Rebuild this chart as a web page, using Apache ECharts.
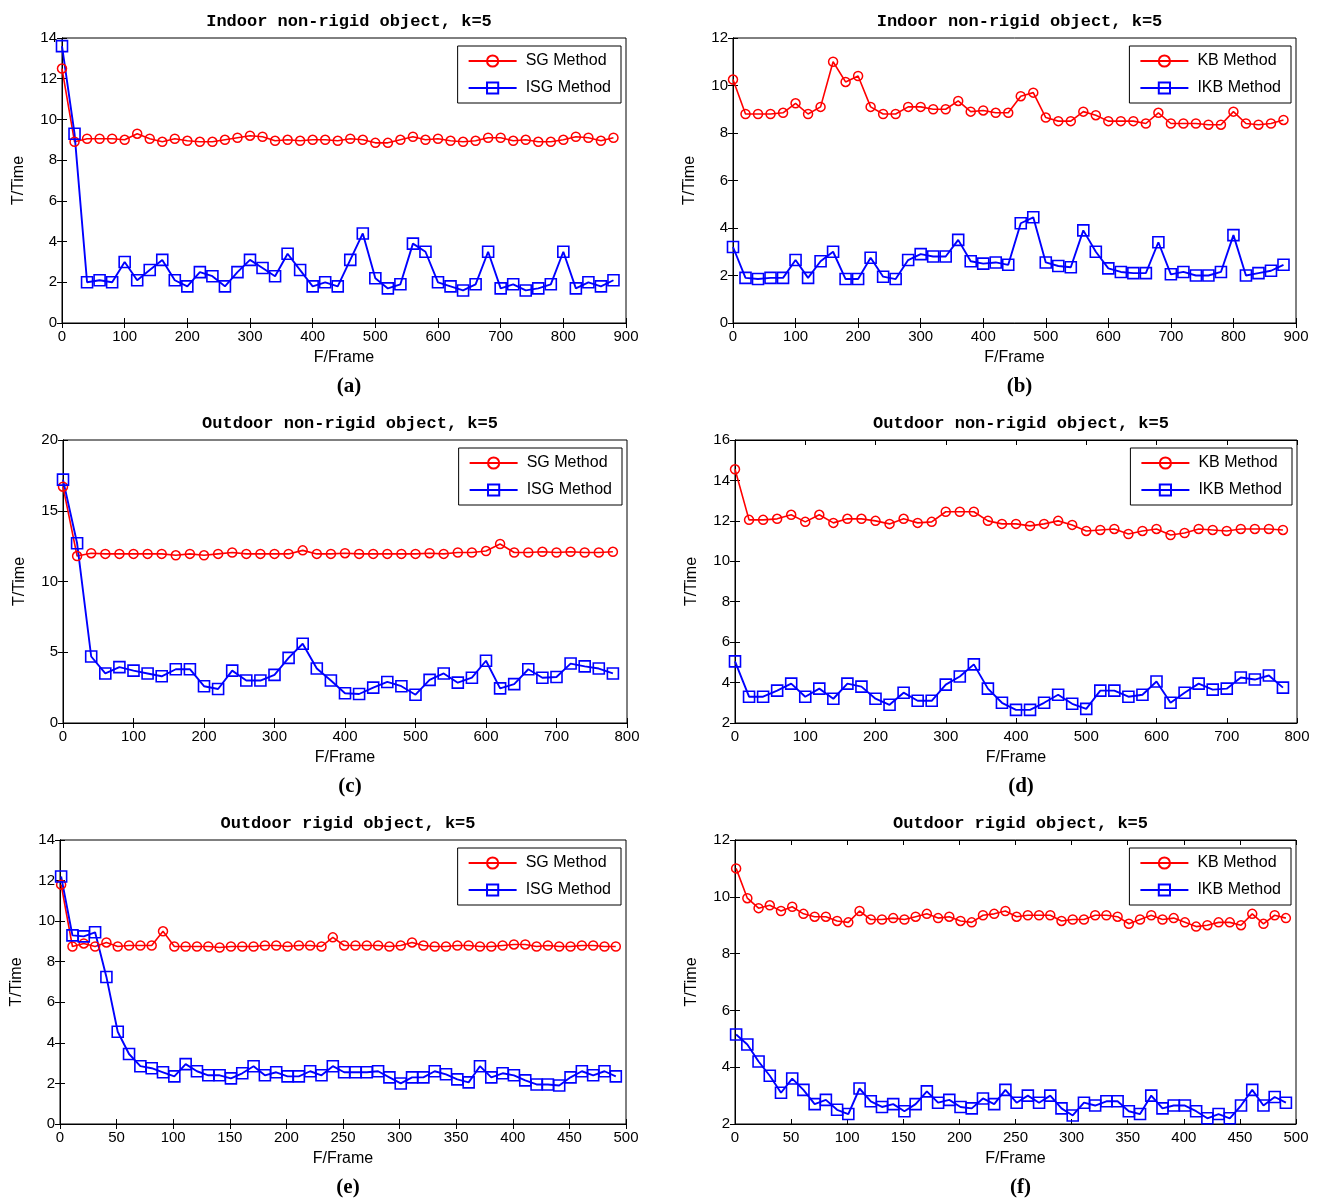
<!DOCTYPE html>
<html>
<head>
<meta charset="utf-8">
<title>T/Time vs F/Frame, k=5</title>
<script src="https://cdn.jsdelivr.net/npm/echarts@6/dist/echarts.min.js"></script>
<style>
  html, body { margin: 0; padding: 0; background: #fff; }
  #chart { width: 1321px; height: 1201px; }
</style>
</head>
<body>
<div id="chart"></div>
<script>
// frames (x values)
const framesAB = [0,20,40,60,80,100,120,140,160,180,200,220,240,260,280,300,320,340,360,380,400,420,440,460,480,500,520,540,560,580,600,620,640,660,680,700,720,740,760,780,800,820,840,860,880];
const framesCD = [0,20,40,60,80,100,120,140,160,180,200,220,240,260,280,300,320,340,360,380,400,420,440,460,480,500,520,540,560,580,600,620,640,660,680,700,720,740,760,780];
const framesEF = [1,11,21,31,41,51,61,71,81,91,101,111,121,131,141,151,161,171,181,191,201,211,221,231,241,251,261,271,281,291,301,311,321,331,341,351,361,371,381,391,401,411,421,431,441,451,461,471,481,491];

// (a) indoor non-rigid, SG / ISG
const sgA  = [12.5,8.9,9.05,9.05,9.05,9.0,9.3,9.05,8.9,9.05,8.95,8.9,8.9,9.0,9.1,9.2,9.15,8.95,9.0,8.95,9.0,9.0,8.95,9.05,9.0,8.85,8.85,9.0,9.15,9.0,9.05,8.95,8.9,8.95,9.1,9.1,8.95,9.0,8.9,8.9,9.0,9.15,9.1,8.95,9.1];
const isgA = [13.6,9.3,2.0,2.1,2.0,3.0,2.1,2.6,3.1,2.1,1.8,2.5,2.3,1.8,2.5,3.1,2.7,2.3,3.4,2.6,1.8,2.0,1.8,3.1,4.4,2.2,1.7,1.9,3.9,3.5,2.0,1.8,1.6,1.9,3.5,1.7,1.9,1.6,1.7,1.9,3.5,1.7,2.0,1.8,2.1];

// (b) indoor non-rigid, KB / IKB
const kbB  = [10.25,8.8,8.8,8.8,8.85,9.25,8.8,9.1,11.0,10.15,10.4,9.1,8.8,8.8,9.1,9.1,9.0,9.0,9.35,8.9,8.95,8.85,8.85,9.55,9.7,8.65,8.5,8.5,8.9,8.75,8.5,8.5,8.5,8.4,8.85,8.4,8.4,8.4,8.35,8.35,8.9,8.4,8.35,8.4,8.55];
const ikbB = [3.2,1.9,1.85,1.9,1.9,2.65,1.9,2.6,3.0,1.85,1.85,2.75,1.95,1.85,2.65,2.9,2.8,2.8,3.5,2.6,2.5,2.55,2.45,4.2,4.45,2.55,2.4,2.35,3.9,3.0,2.3,2.15,2.1,2.1,3.4,2.05,2.15,2.0,2.0,2.15,3.7,2.0,2.1,2.2,2.45];

// (c) outdoor non-rigid, SG / ISG
const sgC  = [16.7,11.8,12.0,11.95,11.95,11.95,11.95,11.95,11.85,11.95,11.85,11.95,12.05,11.95,11.95,11.95,11.95,12.2,11.95,11.95,12.0,11.95,11.95,11.95,11.95,11.95,12.0,11.95,12.05,12.05,12.15,12.65,12.05,12.05,12.1,12.05,12.1,12.05,12.05,12.1];
const isgC = [17.2,12.7,4.7,3.5,3.95,3.7,3.5,3.3,3.8,3.8,2.6,2.4,3.7,3.0,3.0,3.4,4.6,5.6,3.85,3.0,2.1,2.05,2.5,2.9,2.6,2.0,3.05,3.5,2.85,3.2,4.4,2.45,2.75,3.8,3.2,3.25,4.2,4.0,3.85,3.5];

// (d) outdoor non-rigid, KB / IKB
const kbD  = [14.55,12.05,12.05,12.1,12.3,11.95,12.3,11.9,12.1,12.1,12.0,11.85,12.1,11.9,11.95,12.45,12.45,12.45,12.0,11.85,11.85,11.75,11.85,12.0,11.8,11.5,11.55,11.6,11.35,11.5,11.6,11.3,11.4,11.6,11.55,11.5,11.6,11.6,11.6,11.55];
const ikbD = [5.05,3.3,3.3,3.6,3.95,3.3,3.7,3.2,3.95,3.8,3.2,2.9,3.5,3.1,3.1,3.9,4.3,4.9,3.7,3.0,2.65,2.65,3.0,3.4,2.95,2.7,3.6,3.6,3.3,3.4,4.05,3.0,3.5,3.95,3.65,3.7,4.25,4.15,4.35,3.75];

// (e) outdoor rigid, SG / ISG
const sgE  = [11.8,8.75,8.9,8.75,8.95,8.75,8.8,8.8,8.8,9.5,8.75,8.75,8.75,8.75,8.7,8.75,8.75,8.75,8.8,8.8,8.75,8.8,8.8,8.75,9.2,8.8,8.8,8.8,8.8,8.75,8.8,8.95,8.8,8.75,8.75,8.8,8.8,8.75,8.75,8.8,8.85,8.85,8.75,8.8,8.75,8.75,8.8,8.8,8.75,8.75];
const isgE = [12.2,9.3,9.25,9.45,7.25,4.55,3.45,2.85,2.75,2.55,2.35,2.95,2.6,2.4,2.4,2.25,2.5,2.85,2.4,2.55,2.35,2.35,2.6,2.4,2.85,2.55,2.55,2.55,2.6,2.3,2.0,2.3,2.3,2.6,2.45,2.2,2.05,2.85,2.3,2.5,2.4,2.15,1.95,1.95,1.9,2.3,2.6,2.4,2.6,2.35];

// (f) outdoor rigid, KB / IKB
const kbF  = [11.0,9.95,9.6,9.7,9.5,9.65,9.4,9.3,9.3,9.15,9.1,9.5,9.2,9.2,9.25,9.2,9.3,9.4,9.25,9.3,9.15,9.1,9.35,9.4,9.5,9.3,9.35,9.35,9.35,9.15,9.2,9.2,9.35,9.35,9.3,9.05,9.2,9.35,9.2,9.25,9.1,8.95,9.0,9.1,9.1,9.0,9.4,9.05,9.35,9.25];
const ikbF = [5.15,4.8,4.2,3.7,3.1,3.6,3.2,2.7,2.85,2.5,2.35,3.25,2.8,2.6,2.7,2.45,2.7,3.15,2.75,2.85,2.6,2.55,2.9,2.7,3.2,2.75,3.0,2.75,3.0,2.55,2.3,2.75,2.65,2.8,2.8,2.45,2.35,3.0,2.55,2.65,2.65,2.45,2.2,2.35,2.2,2.65,3.2,2.65,2.95,2.75];

const panels = [
  {title:'Indoor non-rigid object, k=5', tag:'(a)', left:62, top:38, width:564, height:285,
   xMax:900, xStep:100, yMin:0, yMax:14, yStep:2, frames:framesAB, red:sgA, blue:isgA, names:['SG Method','ISG Method']},
  {title:'Indoor non-rigid object, k=5', tag:'(b)', left:733, top:38, width:563, height:285,
   xMax:900, xStep:100, yMin:0, yMax:12, yStep:2, frames:framesAB, red:kbB, blue:ikbB, names:['KB Method','IKB Method']},
  {title:'Outdoor non-rigid object, k=5', tag:'(c)', left:63, top:440, width:564, height:283,
   xMax:800, xStep:100, yMin:0, yMax:20, yStep:5, frames:framesCD, red:sgC, blue:isgC, names:['SG Method','ISG Method']},
  {title:'Outdoor non-rigid object, k=5', tag:'(d)', left:735, top:440, width:562, height:283,
   xMax:800, xStep:100, yMin:2, yMax:16, yStep:2, frames:framesCD, red:kbD, blue:ikbD, names:['KB Method','IKB Method']},
  {title:'Outdoor rigid object, k=5', tag:'(e)', left:60, top:840, width:566, height:284,
   xMax:500, xStep:50, yMin:0, yMax:14, yStep:2, frames:framesEF, red:sgE, blue:isgE, names:['SG Method','ISG Method']},
  {title:'Outdoor rigid object, k=5', tag:'(f)', left:735, top:840, width:561, height:284,
   xMax:500, xStep:50, yMin:2, yMax:12, yStep:2, frames:framesEF, red:kbF, blue:ikbF, names:['KB Method','IKB Method']}
];

const W = 1321;
const labelFont = {color:'#000', fontFamily:'Liberation Sans, Arial, sans-serif', fontSize:15};
const tickIn = {show:true, inside:true, length:5, lineStyle:{color:'#000', width:1}};
const lineAx = {show:true, lineStyle:{color:'#000', width:1}};

const option = {
  backgroundColor:'#fff',
  animation:false,
  title:[], legend:[], grid:[], xAxis:[], yAxis:[], series:[]
};

panels.forEach((p, i) => {
  const cx = p.left + p.width / 2;
  option.title.push({
    text:p.title, left:cx, top:p.top - 30, textAlign:'center',
    textStyle:{fontFamily:'Liberation Mono, Courier New, monospace', fontWeight:'bold', fontSize:17, color:'#000'}
  });
  option.title.push({
    text:p.tag, left:cx, top:p.top + p.height + 48, textAlign:'center',
    textStyle:{fontFamily:'Liberation Serif, Times New Roman, serif', fontWeight:'bold', fontSize:21, color:'#000'}
  });
  option.grid.push({left:p.left, top:p.top, width:p.width, height:p.height,
    show:true, borderColor:'#000', borderWidth:1, backgroundColor:'#fff'});

  // bottom + mirrored top x axis
  option.xAxis.push({
    type:'value', gridIndex:i, min:0, max:p.xMax, interval:p.xStep,
    name:'F/Frame', nameLocation:'middle', nameGap:27,
    nameTextStyle:{color:'#000', fontFamily:'Liberation Sans, Arial, sans-serif', fontSize:16},
    axisLine:lineAx, axisTick:tickIn, splitLine:{show:false},
    axisLabel:Object.assign({margin:6}, labelFont)
  });
  option.xAxis.push({
    type:'value', gridIndex:i, position:'top', min:0, max:p.xMax, interval:p.xStep,
    axisLine:lineAx, axisTick:tickIn, splitLine:{show:false}, axisLabel:{show:false}
  });
  // left + mirrored right y axis
  option.yAxis.push({
    type:'value', gridIndex:i, min:p.yMin, max:p.yMax, interval:p.yStep,
    name:'T/Time', nameLocation:'middle', nameGap:35,
    nameTextStyle:{color:'#000', fontFamily:'Liberation Sans, Arial, sans-serif', fontSize:16},
    axisLine:lineAx, axisTick:tickIn, splitLine:{show:false},
    axisLabel:Object.assign({margin:5}, labelFont)
  });
  option.yAxis.push({
    type:'value', gridIndex:i, position:'right', min:p.yMin, max:p.yMax, interval:p.yStep,
    axisLine:lineAx, axisTick:tickIn, splitLine:{show:false}, axisLabel:{show:false}
  });

  option.legend.push({
    data:p.names, orient:'vertical',
    right:W - (p.left + p.width) + 5, top:p.top + 8,
    backgroundColor:'#fff', borderColor:'#000', borderWidth:1,
    padding:[7, 10, 7, 10], itemGap:11, itemWidth:48, itemHeight:14,
    textStyle:{color:'#000', fontFamily:'Liberation Sans, Arial, sans-serif', fontSize:16, padding:[0, 0, 0, 4]},
    selectedMode:false
  });

  option.series.push({
    name:p.names[0], type:'line', xAxisIndex:2 * i, yAxisIndex:2 * i,
    data:p.frames.map((f, k) => [f, p.red[k]]),
    symbol:'circle', symbolSize:9,
    lineStyle:{color:'#ff0000', width:1.6},
    itemStyle:{color:'rgba(255,255,255,0)', borderColor:'#ff0000', borderWidth:1.5}
  });
  option.series.push({
    name:p.names[1], type:'line', xAxisIndex:2 * i, yAxisIndex:2 * i,
    data:p.frames.map((f, k) => [f, p.blue[k]]),
    symbol:'rect', symbolSize:11,
    lineStyle:{color:'#0000ff', width:1.9},
    itemStyle:{color:'rgba(255,255,255,0)', borderColor:'#0000ff', borderWidth:1.6}
  });
});

const chart = echarts.init(document.getElementById('chart'));
chart.setOption(option);
</script>
</body>
</html>
